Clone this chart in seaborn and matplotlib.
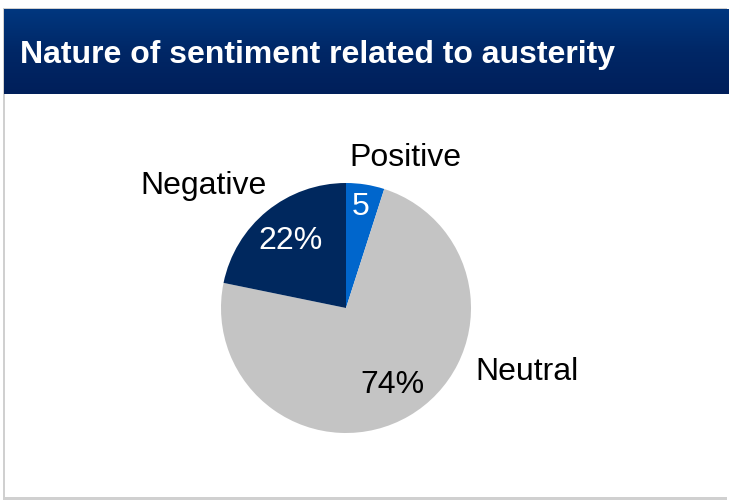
import numpy as np
import matplotlib
matplotlib.use("Agg")
import matplotlib.pyplot as plt
import seaborn as sns
from matplotlib.patches import Rectangle
from matplotlib.colors import LinearSegmentedColormap

sns.set_theme(style="white")
plt.rcParams['font.family'] = ['Liberation Sans', 'DejaVu Sans']

title = "Nature of sentiment related to austerity"
categories = ["Positive", "Neutral", "Negative"]
values = [5, 74, 22]
inner_labels = ["5", "74%", "22%"]
colors = ["#0066CC", "#C4C4C4", "#00285E"]

W, H = 729, 500
fig = plt.figure(figsize=(W / 100, H / 100), dpi=100)
fig.patch.set_facecolor("white")

def fx(px):
    return px / W

def fy(py):
    return 1 - py / H

# panel shadow / border
fig.patches.append(Rectangle((fx(3), fy(500)), fx(727) - fx(3), fy(8) - fy(500),
                             transform=fig.transFigure, facecolor="#D0D0D0",
                             edgecolor="none", zorder=-3))
fig.patches.append(Rectangle((fx(5), fy(497)), fx(729) - fx(5), fy(9) - fy(497),
                             transform=fig.transFigure, facecolor="white",
                             edgecolor="none", zorder=-2))

# header gradient
hax = fig.add_axes([fx(4), fy(94), fx(729) - fx(4), fy(9) - fy(94)])
cmap = LinearSegmentedColormap.from_list("hdr", ["#00377F", "#002766", "#001F5A"])
grad = np.linspace(0, 1, 256).reshape(-1, 1)
hax.imshow(grad, aspect="auto", cmap=cmap, extent=[0, 1, 0, 1], origin="upper")
hax.set_axis_off()
hax.text(0.022, 0.46, title, color="white", fontsize=23, fontweight="bold",
         va="center", ha="left", transform=hax.transAxes)

# pie
cx, cy, r = 346, 308, 125
ax = fig.add_axes([fx(cx - r), fy(cy + r), 2 * r / W, 2 * r / H])
ax.pie(values, colors=colors, startangle=90, counterclock=False, radius=1,
       wedgeprops=dict(linewidth=0))
ax.set_xlim(-1, 1)
ax.set_ylim(-1, 1)
ax.set_aspect("equal")
ax.set_axis_off()

def d(px, py):
    return ((px - cx) / r, (cy - py) / r)

outer_pos = {"Positive": (405, 158), "Neutral": (527, 372), "Negative": (204, 186)}
inner_pos = {"Positive": (361, 207), "Neutral": (392, 385), "Negative": (290, 241)}

for cat, lab in zip(categories, inner_labels):
    x, y = d(*outer_pos[cat])
    ax.text(x, y, cat, fontsize=23, color="black", ha="center", va="center")
    x, y = d(*inner_pos[cat])
    ax.text(x, y, lab, fontsize=23, color="black" if cat == "Neutral" else "white",
            ha="center", va="center")

fig.savefig("out.png", dpi=100)
